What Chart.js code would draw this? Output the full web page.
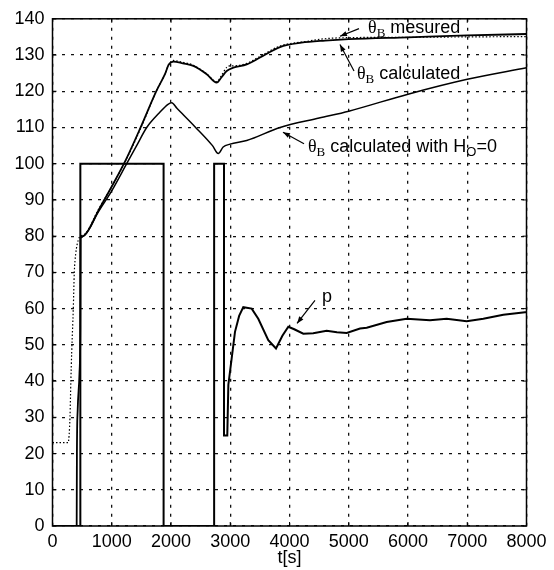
<!DOCTYPE html>
<html><head><meta charset="utf-8">
<script src="https://cdn.jsdelivr.net/npm/chart.js@4/dist/chart.umd.min.js"></script>
<style>html,body{margin:0;padding:0;background:#fff;}#wrap{width:554px;height:570px;position:relative}</style>
</head><body><div id="wrap"><canvas id="c" width="554" height="570"></canvas></div>
<script>
// ---- data ----
const xTicks = [0,1000,2000,3000,4000,5000,6000,7000,8000];
const yTicks = [0,10,20,30,40,50,60,70,80,90,100,110,120,130,140];

const tMeasured = [0,265,280,295,310,324,351,368,391,436,470,520,580,650,750,1000,1250,1500,1760,1900,1960,2040,2200,2377,2603,2771,2850,2940,3000,3052,3278,3502,3840,4300,4600,5000,6000,7000,8000];
const thetaMeasured = [23,23,25,30,40,48,60,70,75,79,80,80.3,81.2,83.2,86.6,93.7,101.3,110.2,120.3,124.8,127.3,128.5,128,127.2,124.8,122.6,124.3,126.6,127,127,127.7,129.6,132.5,133.8,134.5,134.8,134.9,135,135.1];

const tCalc = [408,412,425,455,470,475,520,580,650,750,1000,1250,1500,1760,1900,1960,2040,2200,2377,2603,2771,2850,2940,3052,3278,3502,3840,4200,4600,5000,6000,7000,8000];
const thetaCalc = [0,20,32,42,55,79.5,80,81,83,86.3,93.7,101.5,110.5,120.3,124.8,127.3,128.2,127.7,127,124.7,122.4,123.8,125.6,126.5,127.4,129.3,132.2,133.4,134,134.4,134.9,135.4,135.8];

const tCalcH0 = [475,520,580,650,750,1000,1252,1420,1590,1800,1950,2012,2100,2400,2700,2798,2880,2996,3278,3840,4500,5000,6000,7000,8000];
const thetaCalcH0 = [79.5,80,81,82.8,86,92.5,100,105,110,114,116.4,116.8,115.3,110.3,105,102.8,104.6,105.4,106.4,110,112.6,114.5,119.2,123.3,126.5];

const tP = [0,470,470,1875,1875,2728,2728,2895,2895,2950,2968,3024,3080,3150,3220,3362,3473,3642,3772,3880,3980,4080,4233,4400,4627,4800,4966,5190,5303,5640,5978,6371,6653,6990,7271,7609,7975,8000];
const pValues = [0,0,100,100,0,0,100,100,25,25,39,46.3,53.6,58,60.4,60,57.2,51.3,49,52.5,55,54.3,53.1,53.2,53.9,53.5,53.3,54.5,54.7,56.3,57.2,56.8,57.2,56.5,57.2,58.3,59,59];

const pts = (xs, ys) => xs.map((x, i) => ({x: x, y: ys[i]}));

// ---- annotation labels (text + arrow, placed in data units) ----
const annotations = [
  {parts:[['θ','serif'],['B','subserif'],[' mesured','sans']], at:[5325,137.4], arrow:[5173,137.3,4852,135.2]},
  {parts:[['θ','serif'],['B','subserif'],[' calculated','sans']], at:[5139,124.7], arrow:[5089,125.6,4852,132.9]},
  {parts:[['θ','serif'],['B','subserif'],[' calculated with H','sans'],['O','subsans'],['=0','sans']], at:[4312,104.5], arrow:[4245,105.5,3890,108.7]},
  {parts:[['p','sans']], at:[4548,63.2], arrow:[4430,62.3,4127,55.9]}
];

const FONTS = {
  serif:{f:'18px "Liberation Serif"', dy:0},
  subserif:{f:'13px "Liberation Serif"', dy:5},
  sans:{f:'18px "Liberation Sans"', dy:0},
  subsans:{f:'13px "Liberation Sans"', dy:5}
};

const annotPlugin = {
  id:'annot',
  afterDatasetsDraw(chart){
    const {ctx, scales:{x, y}} = chart;
    ctx.save();
    ctx.fillStyle = '#000'; ctx.strokeStyle = '#000';
    ctx.textBaseline = 'middle'; ctx.textAlign = 'left';
    annotations.forEach(a => {
      let px = x.getPixelForValue(a.at[0]);
      const py = y.getPixelForValue(a.at[1]);
      a.parts.forEach(([txt, kind]) => {
        const F = FONTS[kind];
        ctx.font = F.f;
        ctx.fillText(txt, px, py + F.dy);
        px += ctx.measureText(txt).width;
      });
      const x1 = x.getPixelForValue(a.arrow[0]), y1 = y.getPixelForValue(a.arrow[1]);
      const x2 = x.getPixelForValue(a.arrow[2]), y2 = y.getPixelForValue(a.arrow[3]);
      ctx.lineWidth = 1.2;
      ctx.beginPath(); ctx.moveTo(x1, y1); ctx.lineTo(x2, y2); ctx.stroke();
      const ang = Math.atan2(y2 - y1, x2 - x1), L = 7, W = 2.6;
      ctx.beginPath();
      ctx.moveTo(x2, y2);
      ctx.lineTo(x2 - L*Math.cos(ang) + W*Math.sin(ang), y2 - L*Math.sin(ang) - W*Math.cos(ang));
      ctx.lineTo(x2 - L*Math.cos(ang) - W*Math.sin(ang), y2 - L*Math.sin(ang) + W*Math.cos(ang));
      ctx.closePath(); ctx.fill();
    });
    ctx.restore();
  }
};

const framePlugin = {
  id:'frame',
  afterDraw(chart){
    const {ctx, chartArea:a, scales:{x, y}} = chart;
    ctx.save();
    ctx.strokeStyle = '#000'; ctx.lineWidth = 1.5; ctx.setLineDash([]);
    ctx.strokeRect(a.left, a.top, a.right - a.left, a.bottom - a.top);
    ctx.lineWidth = 1;
    ctx.beginPath();
    xTicks.forEach(v => { const p = x.getPixelForValue(v);
      ctx.moveTo(p, a.bottom); ctx.lineTo(p, a.bottom - 4);
      ctx.moveTo(p, a.top); ctx.lineTo(p, a.top + 4); });
    yTicks.forEach(v => { const p = y.getPixelForValue(v);
      ctx.moveTo(a.left, p); ctx.lineTo(a.left + 4, p);
      ctx.moveTo(a.right, p); ctx.lineTo(a.right - 4, p); });
    ctx.stroke();
    ctx.restore();
  }
};

const tickFont = {family:'"Liberation Sans", Arial, sans-serif', size:18};
const gridCfg = {color:'#111', lineWidth:1.3, drawTicks:false, borderDash:[3,6]};

new Chart(document.getElementById('c'), {
  type:'line',
  data:{datasets:[
    {label:'θB mesured', data:pts(tMeasured, thetaMeasured), borderColor:'#000', borderWidth:1.2, borderDash:[1.5,2], pointRadius:0, cubicInterpolationMode:'monotone', fill:false},
    {label:'θB calculated', data:pts(tCalc, thetaCalc), borderColor:'#000', borderWidth:1.8, pointRadius:0, cubicInterpolationMode:'monotone', fill:false},
    {label:'θB calculated with HO=0', data:pts(tCalcH0, thetaCalcH0), borderColor:'#000', borderWidth:1.5, pointRadius:0, cubicInterpolationMode:'monotone', fill:false},
    {label:'p', data:pts(tP, pValues), borderColor:'#000', borderWidth:2, pointRadius:0, tension:0, fill:false}
  ]},
  options:{
    responsive:false, animation:false,
    layout:{padding:{top:14, right:27.5, left:0, bottom:0}},
    plugins:{legend:{display:false}, tooltip:{enabled:false}},
    scales:{
      x:{type:'linear', min:0, max:8000,
        afterBuildTicks(s){ s.ticks = xTicks.map(v => ({value:v})); },
        afterFit(s){ s.height = 44; },
        grid:gridCfg, border:{display:false, dash:[3,6]},
        ticks:{color:'#000', font:tickFont, padding:5, autoSkip:false, maxRotation:0, callback:v => String(v)},
        title:{display:true, text:'t[s]', color:'#000', font:{family:'"Liberation Sans", Arial, sans-serif', size:18}, padding:{top:0, bottom:1}}
      },
      y:{type:'linear', min:0, max:140,
        afterBuildTicks(s){ s.ticks = yTicks.map(v => ({value:v})); },
        afterFit(s){ s.width = 52.5; },
        grid:gridCfg, border:{display:false, dash:[3,6]},
        ticks:{color:'#000', font:tickFont, padding:8, autoSkip:false, callback:v => String(v)}
      }
    }
  },
  plugins:[annotPlugin, framePlugin]
});
</script></body></html>
